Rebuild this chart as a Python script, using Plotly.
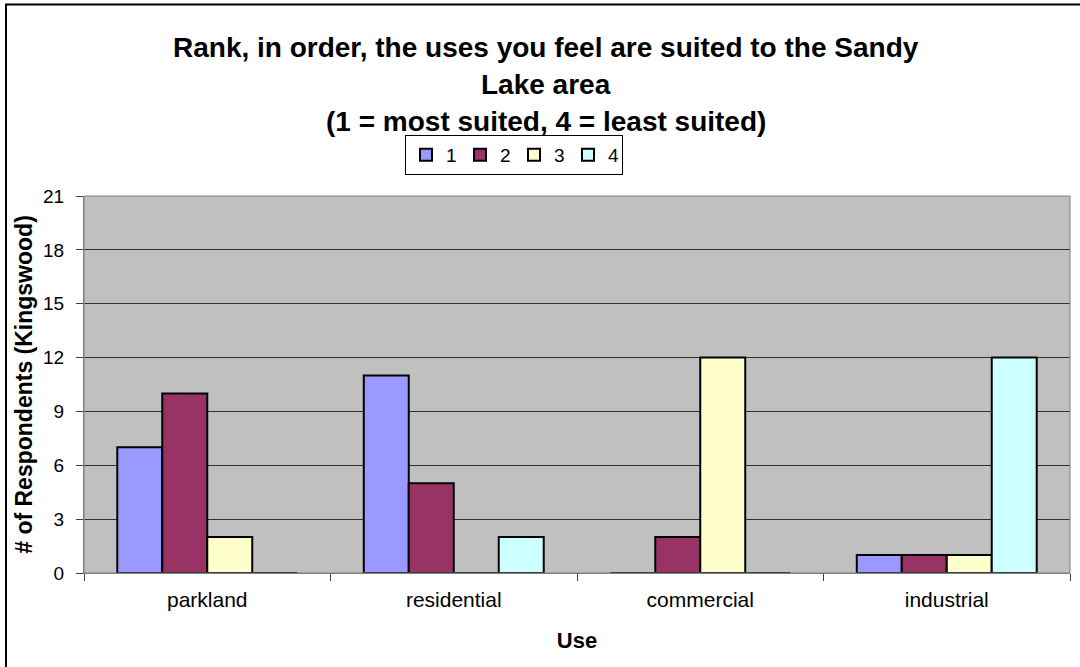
import plotly.graph_objects as go

categories = ["parkland", "residential", "commercial", "industrial"]
series_names = ["1", "2", "3", "4"]
rank1 = [7, 11, 0, 1]
rank2 = [10, 5, 2, 1]
rank3 = [2, 0, 12, 1]
rank4 = [0, 2, 0, 12]
colors = ["#9999FF", "#993366", "#FFFFCC", "#CCFFFF"]
y_ticks = [0, 3, 6, 9, 12, 15, 18, 21]

FONT = "Liberation Sans, Arial, sans-serif"

fig = go.Figure()
for name, vals, col in zip(series_names, [rank1, rank2, rank3, rank4], colors):
    fig.add_trace(go.Bar(
        x=categories, y=vals, name=name,
        marker=dict(color=col, line=dict(color="black", width=2)),
    ))

W, H = 1080, 667
L, R, T, B = 84, 10, 196, 94
pw, ph = W - L - R, H - T - B

fig.update_layout(
    width=W, height=H,
    margin=dict(l=L, r=R, t=T, b=B),
    paper_bgcolor="white",
    plot_bgcolor="#C0C0C0",
    barmode="group",
    bargap=0.27,
    bargroupgap=0,
    font=dict(family=FONT, color="black", size=18),
    showlegend=True,
    legend=dict(
        orientation="h", x=(514 - L) / pw, y=1 + 21 / ph, xanchor="center", yanchor="bottom",
        bordercolor="black", borderwidth=1, bgcolor="white",
        font=dict(size=19), itemwidth=30, tracegroupgap=0,
        entrywidth=9, entrywidthmode="pixels",
    ),
    xaxis=dict(
        automargin=False,
        showgrid=False, showline=True, linecolor="#808080", linewidth=1,
        ticks="outside", tickcolor="#404040", ticklen=7, tickson="boundaries",
        tickfont=dict(size=21), range=[-0.5, 3.5], ticklabelstandoff=8,
        title=dict(text="<b>Use</b>", font=dict(size=22), standoff=22),
    ),
    yaxis=dict(
        automargin=False,
        range=[0, 21], tickvals=y_ticks, showgrid=True, gridcolor="#303030", gridwidth=1,
        showline=True, linecolor="#808080", linewidth=1,
        ticks="outside", tickcolor="#404040", ticklen=7,
        tickfont=dict(size=19), zeroline=False, ticklabelstandoff=8,
        title=dict(text="<b># of Respondents (Kingswood)</b>", font=dict(size=23), standoff=4),
    ),
)

title_lines = [
    ("<b>Rank, in order, the uses you feel are suited to the Sandy</b>", 47),
    ("<b>Lake area</b>", 85),
    ("<b>(1 = most suited, 4 = least suited)</b>", 121),
]
for txt, yc in title_lines:
    fig.add_annotation(
        text=txt, xref="paper", yref="paper",
        x=(546 - L) / pw, y=(H - B - yc) / ph,
        xanchor="center", yanchor="middle", showarrow=False,
        font=dict(size=28, family=FONT, color="black"),
    )

# plot area top/right border
fig.add_shape(type="rect", xref="paper", yref="paper", x0=0, y0=0, x1=1, y1=1,
              line=dict(color="#808080", width=1), layer="above")
# outer chart border (right/bottom edges fall outside the visible page)
fig.add_shape(type="rect", xref="paper", yref="paper",
              x0=-(L - 6) / pw, x1=1 + (R + 6) / pw,
              y0=-(B + 6) / ph, y1=1 + (T - 4.5) / ph,
              line=dict(color="black", width=2))

fig.write_html("out.html", config={"displayModeBar": False},
               post_script="document.body.style.margin='0';")
